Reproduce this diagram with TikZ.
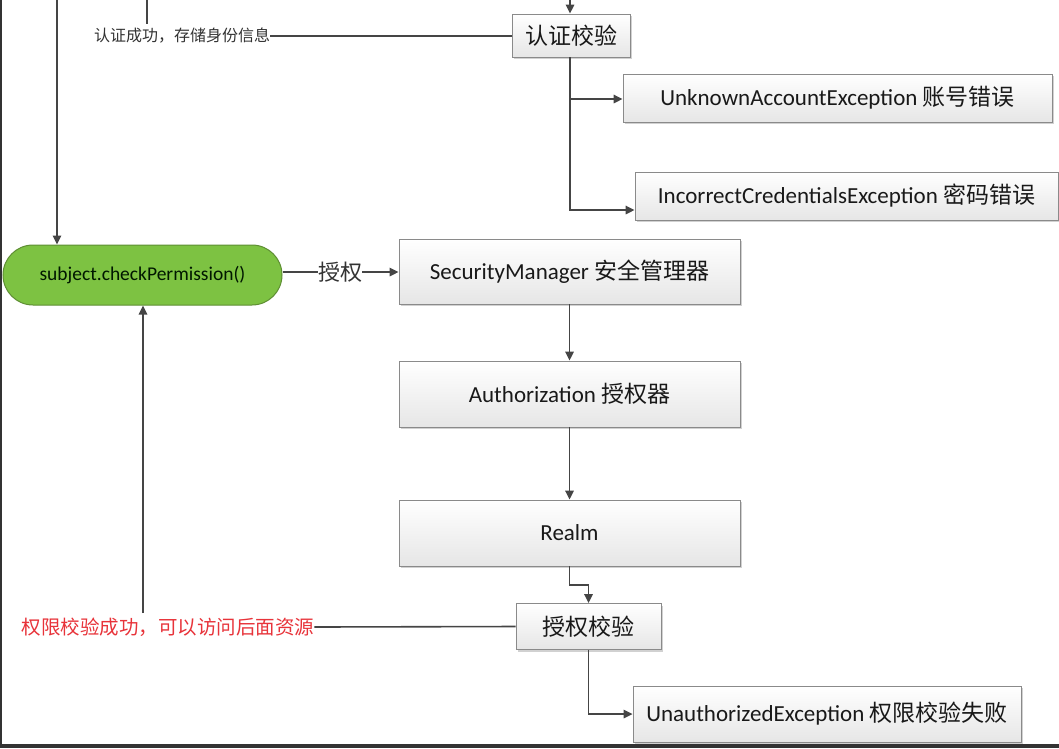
\documentclass[tikz,border=0pt]{standalone}
\usepackage{fontspec}
\setmainfont{Carlito}
\newfontfamily\cjk{Noto Sans CJK SC}
\usetikzlibrary{arrows.meta,shadows,calc}
\definecolor{linec}{HTML}{454545}
\definecolor{boxborder}{HTML}{8A8A8A}
\definecolor{boxtop}{HTML}{FFFFFF}
\definecolor{boxbot}{HTML}{E6E6E6}
\definecolor{pillfill}{HTML}{7DC242}
\definecolor{pillborder}{HTML}{5E8E33}
\definecolor{redtxt}{HTML}{E8333A}
\definecolor{edgec}{HTML}{333333}
\tikzset{
  graybox/.style={draw=boxborder, line width=0.9pt, top color=boxtop, bottom color=boxbot,
    inner sep=0pt, align=center, text=black!90,
    drop shadow={shadow xshift=2pt, shadow yshift=-2pt, fill=black, opacity=0.18}},
  pillbox/.style={draw=pillborder, line width=1pt, fill=pillfill, rounded corners=30pt,
    inner sep=0pt, align=center, text=black!85!green!60!black},
  conn/.style={draw=linec, line width=1.6pt},
  arr/.style={conn, -{Triangle[length=9pt,width=8.5pt]}},
  bigtxt/.style={font=\fontsize{23}{27}\selectfont},
}
\begin{document}
\begin{tikzpicture}[x=1pt,y=-1pt]
\useasboundingbox (0,0) rectangle (1059,748);
\fill[white] (0,0) rectangle (1059,748);
% frame edges of the screenshot
\fill[edgec] (0,0) rectangle (2,748);
\fill[edgec] (0,744) rectangle (1059,748);

% nodes
\node[graybox, minimum width=118pt, minimum height=43pt, font=\fontsize{23}{27}\selectfont\cjk] (rz) at (571,35.5) {认证校验};
\node[graybox, bigtxt, minimum width=429pt, minimum height=48pt] (unk) at (837.5,98) {UnknownAccountException {\cjk 账号错误}};
\node[graybox, bigtxt, minimum width=423pt, minimum height=48pt] (inc) at (846.5,196) {IncorrectCredentialsException {\cjk 密码错误}};
\node[pillbox, minimum width=279pt, minimum height=60pt, font=\fontsize{19.5}{23}\selectfont] (pill) at (142.5,275) {subject.checkPermission()};
\node[graybox, bigtxt, minimum width=341pt, minimum height=65pt] (sm) at (569.5,271.5) {SecurityManager {\cjk 安全管理器}};
\node[graybox, bigtxt, minimum width=341pt, minimum height=66pt] (auth) at (569.5,394) {Authorization {\cjk 授权器}};
\node[graybox, bigtxt, minimum width=341pt, minimum height=66pt] (realm) at (569.5,533) {Realm};
\node[graybox, minimum width=145pt, minimum height=46pt, font=\fontsize{23}{27}\selectfont\cjk] (sq) at (588.5,626.5) {授权校验};
\node[graybox, bigtxt, minimum width=388pt, minimum height=56pt] (unauth) at (827,714) {UnauthorizedException {\cjk 权限校验失败}};

% labels
\node[inner sep=0pt, font=\fontsize{16}{19}\selectfont\cjk, text=black!80] (lbl1) at (182,36) {认证成功，存储身份信息};
\node[inner sep=0pt, font=\fontsize{19.5}{23}\selectfont\cjk, text=redtxt] (lbl2) at (168,627) {权限校验成功，可以访问后面资源};
\node[inner sep=0pt, font=\fontsize{22}{26}\selectfont\cjk, text=black!80] (lbl3) at (340,272) {授权};

% free ends
\coordinate (topA) at (570,0);
\coordinate (topB) at (147,0);
\coordinate (topBend) at (147,24);
\coordinate (topC) at (57,0);
\coordinate (upstart) at (143,613);
\coordinate (bend1) at (569.5,585);
\coordinate (bend2) at (588.5,585);

% connectors
\draw[arr] (topA) -- (rz.north -| topA);
\draw[conn] (topB) -- (topBend);
\draw[conn] (lbl1.east) -- (lbl1.east -| rz.west);
\draw[arr] (topC) -- (topC |- pill.north);
\draw[arr] (rz.south -| topA) |- ($(unk.west)+(0,1)$);
\draw[arr] (rz.south -| topA) |- ($(inc.west)+(0,14)$);
\draw[conn] (pill.east |- lbl3.west) -- (lbl3.west);
\draw[arr] (lbl3.east) -- (lbl3.east -| sm.west);
\draw[arr] (sm.south) -- (auth.north);
\draw[arr] (auth.south) -- (realm.north);
\draw[conn] (realm.south) -- (bend1) -- (bend2);
\draw[arr] (bend2) -- (sq.north);
\draw[arr] (sq.south) |- (unauth.west);
\draw[conn] (sq.west) -- (lbl2.east);
\draw[arr] (upstart) -- (upstart |- pill.south);
\end{tikzpicture}
\end{document}
